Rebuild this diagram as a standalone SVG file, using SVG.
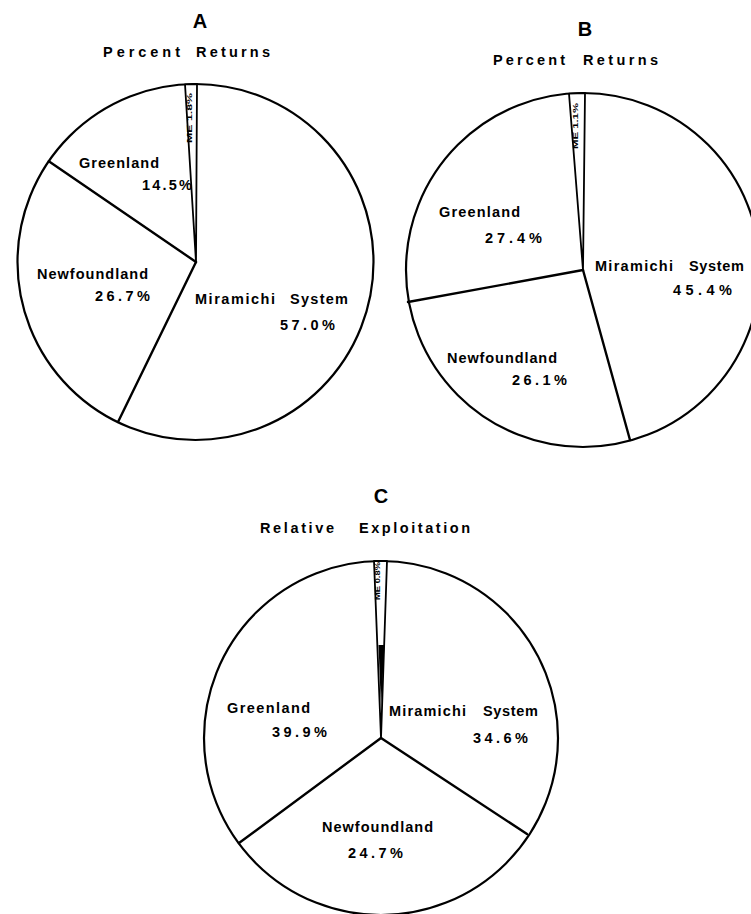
<svg xmlns="http://www.w3.org/2000/svg" width="751" height="914" viewBox="0 0 751 914">
<style>
  .pie { fill: #fff; stroke: #000; stroke-width: 2.2; }
  .div { fill: none; stroke: #000; stroke-width: 2.4; stroke-linecap: round; }
  .wedge { fill: #fff; stroke: #000; stroke-width: 1.8; stroke-linejoin: round; }
  .lbl { font-family: "Liberation Sans", Arial, sans-serif; font-weight: bold; font-size: 14.5px; fill: #000; }
  .ttl { font-family: "Liberation Sans", Arial, sans-serif; font-weight: bold; font-size: 14.5px; fill: #000; }
  .big { font-family: "Liberation Sans", Arial, sans-serif; font-weight: bold; font-size: 20px; fill: #000; text-anchor: middle; }
  .sm { font-family: "Liberation Sans", Arial, sans-serif; font-weight: bold; font-size: 8px; fill: #000; text-anchor: middle; }
</style>
<rect width="751" height="914" fill="#fff"/>

<!-- Pie A -->
<g id="pieA">
  <text class="big" x="200" y="28">A</text>
  <text class="ttl" x="103" y="57" textLength="77" lengthAdjust="spacing">Percent</text>
  <text class="ttl" x="196" y="57" textLength="74" lengthAdjust="spacing">Returns</text>
  <circle class="pie" cx="195.5" cy="262" r="178"/>
  <g id="A-slices" class="connectors">
    <line class="div" x1="196" y1="262" x2="48.8" y2="161.2"/>
    <line class="div" x1="196" y1="262" x2="118" y2="422"/>
    <polygon class="wedge" points="185,84.3 197,84 196,262"/>
  </g>
  <g id="A-me"><text class="sm" transform="translate(192,118) rotate(-90)" textLength="50" lengthAdjust="spacingAndGlyphs">ME 1.8%</text></g>
  <g id="A-greenland">
    <text class="lbl" x="79" y="168" textLength="80" lengthAdjust="spacing">Greenland</text>
    <text class="lbl" x="142" y="190" textLength="50" lengthAdjust="spacing">14.5%</text>
  </g>
  <g id="A-newfoundland">
    <text class="lbl" x="37" y="279" textLength="111" lengthAdjust="spacing">Newfoundland</text>
    <text class="lbl" x="95" y="301" textLength="55" lengthAdjust="spacing">26.7%</text>
  </g>
  <g id="A-miramichi">
    <text class="lbl" x="195" y="304" textLength="80" lengthAdjust="spacing">Miramichi</text>
    <text class="lbl" x="290" y="304" textLength="58" lengthAdjust="spacing">System</text>
    <text class="lbl" x="280" y="330" textLength="55" lengthAdjust="spacing">57.0%</text>
  </g>
</g>

<!-- Pie B -->
<g id="pieB">
  <text class="big" x="585" y="36">B</text>
  <text class="ttl" x="493" y="65" textLength="72" lengthAdjust="spacing">Percent</text>
  <text class="ttl" x="583" y="65" textLength="75" lengthAdjust="spacing">Returns</text>
  <circle class="pie" cx="583" cy="270" r="177"/>
  <g id="B-slices" class="connectors">
    <line class="div" x1="583" y1="270" x2="408" y2="302"/>
    <line class="div" x1="583" y1="270" x2="630" y2="440"/>
    <polygon class="wedge" points="569,93.6 585,93 583,270"/>
  </g>
  <g id="B-me"><text class="sm" transform="translate(578,126) rotate(-90)" textLength="46" lengthAdjust="spacingAndGlyphs">ME 1.1%</text></g>
  <g id="B-greenland">
    <text class="lbl" x="439" y="217" textLength="81" lengthAdjust="spacing">Greenland</text>
    <text class="lbl" x="485" y="243" textLength="57" lengthAdjust="spacing">27.4%</text>
  </g>
  <g id="B-miramichi">
    <text class="lbl" x="595" y="271" textLength="78" lengthAdjust="spacing">Miramichi</text>
    <text class="lbl" x="689" y="271" textLength="55" lengthAdjust="spacing">System</text>
    <text class="lbl" x="673" y="295" textLength="59" lengthAdjust="spacing">45.4%</text>
  </g>
  <g id="B-newfoundland">
    <text class="lbl" x="447" y="363" textLength="110" lengthAdjust="spacing">Newfoundland</text>
    <text class="lbl" x="512" y="385" textLength="55" lengthAdjust="spacing">26.1%</text>
  </g>
</g>

<!-- Pie C -->
<g id="pieC">
  <text class="big" x="381" y="503">C</text>
  <text class="lbl" x="260" y="533" textLength="74" lengthAdjust="spacing">Relative</text>
  <text class="lbl" x="359" y="533" textLength="111" lengthAdjust="spacing">Exploitation</text>
  <circle class="pie" cx="381" cy="738" r="177"/>
  <g id="C-slices" class="connectors">
    <line class="div" x1="381" y1="738" x2="239" y2="843"/>
    <line class="div" x1="381" y1="738" x2="527" y2="834"/>
    <polygon class="wedge" points="374,561 387,561 381,738"/>
    <polygon points="378.5,645 384.5,645 381,708" fill="#000"/>
  </g>
  <g id="C-me"><text class="sm" font-size="7" transform="translate(380,581) rotate(-90)" textLength="38" lengthAdjust="spacingAndGlyphs">ME 0.8%</text></g>
  <g id="C-greenland">
    <text class="lbl" x="227" y="713" textLength="83" lengthAdjust="spacing">Greenland</text>
    <text class="lbl" x="272" y="737" textLength="55" lengthAdjust="spacing">39.9%</text>
  </g>
  <g id="C-miramichi">
    <text class="lbl" x="389" y="716" textLength="77" lengthAdjust="spacing">Miramichi</text>
    <text class="lbl" x="483" y="716" textLength="55" lengthAdjust="spacing">System</text>
    <text class="lbl" x="473" y="743" textLength="55" lengthAdjust="spacing">34.6%</text>
  </g>
  <g id="C-newfoundland">
    <text class="lbl" x="322" y="832" textLength="111" lengthAdjust="spacing">Newfoundland</text>
    <text class="lbl" x="348" y="858" textLength="55" lengthAdjust="spacing">24.7%</text>
  </g>
</g>
</svg>
